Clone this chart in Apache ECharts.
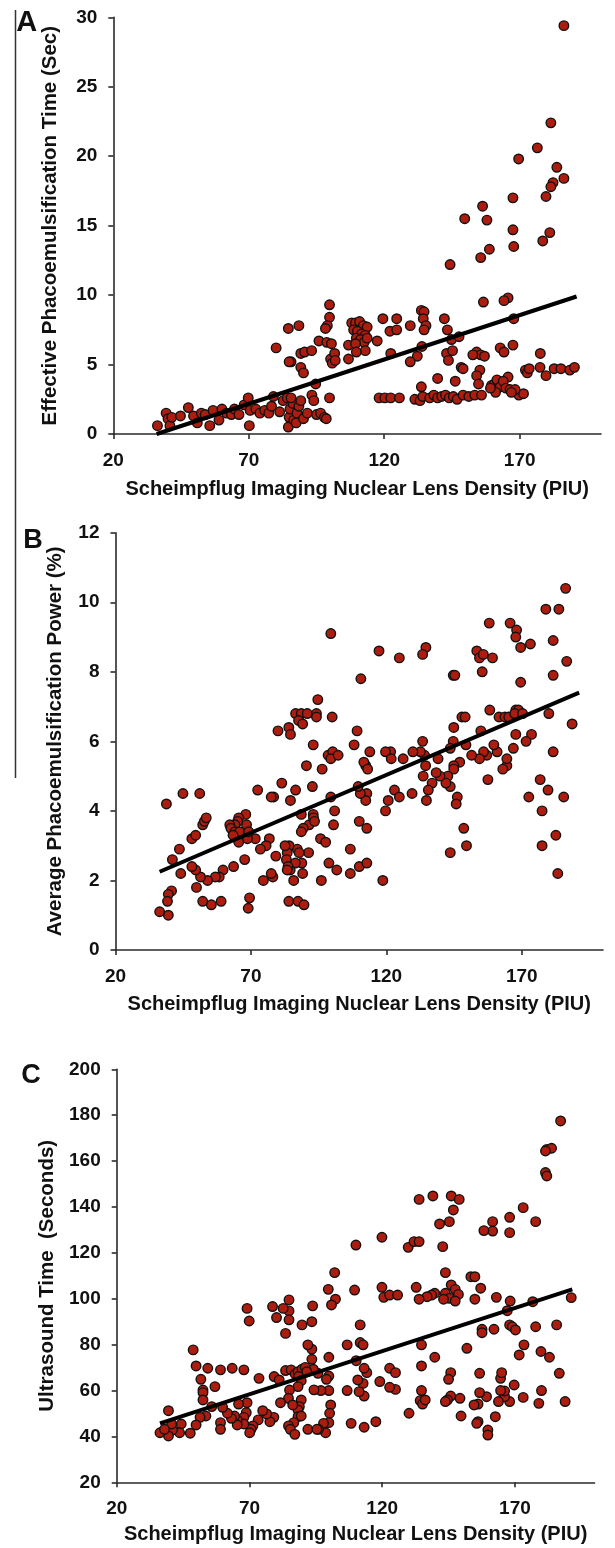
<!DOCTYPE html>
<html><head><meta charset="utf-8">
<script src="https://cdn.jsdelivr.net/npm/echarts@6/dist/echarts.min.js"></script>
<style>html,body{margin:0;padding:0;background:#fff}#c{width:615px;height:1548px}</style>
</head><body><div id="c"></div>
<script>
const xTicks = [20, 70, 120, 170];
const xTitle = 'Scheimpflug Imaging Nuclear Lens Density (PIU)';
const yTitleA = 'Effective Phacoemulsification Time (Sec)';
const yTitleB = 'Average Phacoemulsification Power (%)';
const yTitleC = 'Ultrasound Time  (Seconds)';

const pointsA = [[186.3,29.4],[181.5,22.4],[176.5,20.6],[169.6,19.8],[183.7,19.2],[186.3,18.4],[182.3,18.1],[181.5,17.8],[179.7,17.1],[167.5,17.0],[156.3,16.4],[157.9,15.4],[149.7,15.5],[167.5,14.7],[181.1,14.5],[178.5,13.9],[167.8,13.5],[158.8,13.3],[155.6,12.7],[144.3,12.2],[156.6,9.5],[165.7,9.8],[164.2,9.6],
[99.8,9.3],[99.8,8.4],[99.0,7.8],[98.3,7.6],[88.5,7.8],[84.6,7.6],[80.1,6.2],[85.6,5.2],[84.9,5.2],[89.2,5.8],[90.6,5.9],[93.2,6.0],[89.2,4.8],[90.2,4.4],[95.9,6.7],[98.8,6.6],[100.5,6.5],[100.2,5.4],[101.7,5.8],[100.8,5.1],[101.9,5.3],[99.8,2.6],[106.8,6.4],[106.8,5.4],[108.0,8.0],
[109.4,8.0],[110.9,8.1],[112.3,7.8],[113.7,7.7],[108.7,7.5],[110.1,7.4],[111.6,7.2],[113.0,7.1],[109.7,6.9],[111.2,6.8],[112.6,6.6],[113.7,6.9],[109.4,6.5],[113.0,6.0],[109.7,5.9],
[117.4,6.7],[119.5,8.3],[124.6,8.3],[122.1,7.4],[124.6,7.5],[122.4,5.8],[129.6,7.8],[133.7,8.9],[134.7,8.8],[134.4,8.3],[135.4,7.8],[134.7,7.5],[133.9,6.3],[132.2,5.6],[129.6,5.2],
[142.2,8.3],[143.3,7.5],[144.8,6.8],[147.6,7.0],[143.0,5.8],[145.2,6.0],[143.7,5.3],[148.4,4.8],[149.1,4.7],[139.7,4.0],[146.2,3.8],
[154.1,5.9],[155.6,5.7],[157.0,5.6],[152.7,5.7],[155.3,4.6],[154.1,4.2],[154.8,3.6],[162.8,6.2],[164.2,5.9],[167.5,6.4],[167.8,8.3],[165.7,4.1],
[159.6,3.5],[160.6,3.6],[161.6,3.9],[162.8,3.4],[163.9,3.8],[164.9,3.3],[166.4,3.2],[161.1,3.0],[159.2,3.3],
[169.7,2.8],[171.4,2.9],[172.1,4.6],[172.8,4.4],[173.5,4.7],[177.6,5.8],[177.5,4.8],[179.7,4.2],[182.7,4.7],[185.2,4.7],[188.5,4.6],[190.2,4.8],[168.3,3.2],[166.9,3.0],
[118.1,2.6],[120.2,2.6],[122.4,2.6],[125.6,2.6],[131.3,2.5],[133.2,2.4],[133.7,3.4],[134.2,2.7],[136.8,2.6],[138.3,2.8],[139.7,2.6],[141.2,2.7],[142.6,2.8],[144.0,2.6],[145.5,2.7],[146.9,2.5],[149.1,2.8],[151.2,2.7],[153.4,2.8],[155.9,2.8],
[36.3,0.6],[39.5,1.5],[40.2,1.1],[40.9,0.6],[41.6,1.2],[44.8,1.3],[47.7,1.9],[49.6,1.3],[51.0,0.8],[52.5,1.5],[53.9,1.4],[55.6,0.6],[56.8,1.7],[59.0,1.0],[60.1,1.8],[61.8,1.5],[63.6,1.4],[64.7,1.8],[66.4,1.4],[68.3,2.1],[69.8,2.6],[70.2,0.6],[70.5,1.7],[72.6,1.8],[74.1,1.5],[75.9,1.7],[77.4,1.5],[78.4,2.0],[79.1,2.7],[81.4,1.6],[82.7,2.4],[84.2,2.6],[84.6,0.5],[84.9,1.2],[85.2,1.8],[86.3,2.2],[86.6,1.0],[87.8,1.5],[88.5,2.0],[89.2,2.4],[87.5,0.8],[90.2,1.1],[91.6,1.5],[93.3,2.8],[94.0,2.4],[95.0,1.4],[96.5,1.5],[97.9,1.2],[98.6,1.1],[94.7,3.6],[85.6,2.6]];
const trendA = [[36.0,0.0],[191.0,9.9]];

const pointsB = [[186.2,10.4],[178.9,9.8],[183.7,9.8],[158.0,9.4],[165.7,9.4],[168.1,9.2],[167.8,9.0],[173.2,8.8],[181.6,8.9],[99.5,9.1],[117.3,8.6],[124.8,8.4],[134.6,8.7],[133.4,8.5],[153.4,8.6],[154.4,8.4],[155.8,8.5],[159.2,8.4],[155.4,8.0],[169.6,8.7],[186.6,8.3],[181.6,7.9],[169.6,7.7],[110.6,7.8],[144.7,7.9],[145.3,7.9],[94.7,7.2],[86.5,6.8],[88.6,6.8],[90.8,6.8],[94.2,6.8],[87.6,6.6],[89.1,6.5],[94.2,6.7],[100.0,6.7],[80.0,6.3],[84.0,6.4],[84.6,6.2],[109.2,6.3],[144.9,6.4],[158.2,6.9],[154.9,6.3],[188.6,6.5],[180.0,6.8],
[161.6,6.7],[163.8,6.7],[165.2,6.7],[167.8,6.9],[168.8,6.9],[167.4,6.8],[170.3,6.8],[147.9,6.7],[149.1,6.7],[173.6,6.2],[167.8,6.2],[171.6,6.0],[166.9,5.8],[160.9,5.7],[159.7,5.9],[157.1,5.6],[155.9,5.7],[154.4,5.5],[151.5,5.6],[149.4,5.9],[144.7,6.0],[143.6,5.8],[157.5,4.9],[164.5,5.3],[163.0,5.2],[164.5,5.5],[176.8,4.9],[179.7,4.6],[172.6,4.4],[185.5,4.4],[181.6,5.7],[177.5,4.0],[177.5,3.0],[182.6,3.3],[183.3,2.2],[143.6,2.8],[149.6,3.0],[148.6,3.5],[147.1,5.4],[144.9,5.3],[144.9,5.2],[142.7,5.0],[143.6,4.7],[146.2,4.4],[145.8,4.2],[142.0,4.8],[139.8,5.0],[138.4,5.1],[136.9,4.8],[135.5,4.6],[134.8,4.3],[133.6,5.0],[134.5,5.3],[134.1,5.6],[132.6,5.7],[133.4,6.0],[129.8,5.7],[129.5,4.5],[139.1,5.5],[126.2,5.5],[121.6,5.7],[119.7,5.7],[121.8,5.5],[123.0,4.6],[124.8,4.4],[120.7,4.3],[119.7,4.0],[118.7,2.0],[113.9,5.7],[112.4,5.3],[111.7,5.4],[113.1,5.2],[112.8,4.5],[112.4,4.3],[110.4,4.5],[109.6,4.7],[108.1,5.9],[110.0,3.7],[112.8,3.5],[106.7,2.9],[106.7,2.2],[110.0,2.4],[112.8,2.5],[100.9,4.0],[100.5,3.6],[99.5,4.4],[98.5,5.6],[100.2,5.7],[99.5,5.5],[102.2,5.6],[96.3,5.2],[93.0,5.9],[90.5,5.3],[92.7,4.7],[86.5,4.6],[84.6,4.3],[81.4,4.8],[78.4,4.4],[77.5,4.4],[72.5,4.6],[93.0,3.9],[91.5,3.6],[89.3,3.5],[88.6,3.4],[88.6,3.9],[93.1,3.8],[93.5,3.7],[95.7,3.2],[97.6,3.1],[98.8,2.5],[96.0,2.0],[101.7,2.3],[91.3,2.8],[89.1,2.2],[88.8,2.5],[87.1,2.9],[87.8,2.8],[86.4,2.5],[84.5,2.3],[84.1,3.0],[83.4,2.8],[83.1,2.6],[83.7,2.4],[83.4,2.3],[85.8,2.0],[82.6,3.0],[84.0,1.4],[87.4,1.4],[89.6,1.3],[79.2,2.7],[78.1,2.1],[77.5,2.2],[76.8,3.2],[75.6,3.0],[73.5,2.9],[74.6,2.0],[69.5,1.5],[69.0,1.2],[71.6,3.2],[68.7,3.2],[67.7,2.6],[68.1,3.9],[68.4,3.6],[65.5,3.8],[65.1,3.7],[64.1,3.6],[62.2,3.6],[62.6,3.5],[64.1,3.4],[65.8,3.4],[65.5,3.1],[63.4,3.3],[69.2,3.4],[63.6,2.4],[59.7,2.3],[58.3,2.1],[59.0,1.4],[55.4,1.3],[56.9,2.1],[54.0,2.0],[52.2,1.4],[51.4,2.1],[49.9,1.8],[49.6,2.3],[48.2,2.4],[44.1,2.2],[43.6,2.9],[41.0,2.6],[40.7,1.7],[39.5,1.6],[39.2,1.4],[39.5,1.0],[36.3,1.1],[38.8,4.2],[44.9,4.5],[51.1,4.5],[48.2,3.2],[49.6,3.3],[52.2,3.6],[52.8,3.7],[53.5,3.8]];
const trendB = [[36.3,2.25],[191.2,7.4]];

const pointsC = [[187.2,177.5],[182.0,165.1],[183.8,165.6],[181.5,164.4],[181.5,155.0],[182.0,153.5],[173.1,139.7],[177.8,133.6],[168.0,135.5],[168.0,128.8],[161.6,133.6],[161.6,129.5],[158.3,129.7],[133.9,143.3],[139.1,144.8],[146.0,144.8],[149.0,143.3],[146.8,138.7],[145.3,133.6],[141.6,132.6],[142.8,122.7],[129.8,122.4],[132.0,124.9],[133.9,124.9],[119.9,126.8],[110.1,123.4],[143.8,111.4],[153.4,109.6],[154.9,109.6],[157.1,104.6],[146.0,106.0],[147.5,104.1],[148.7,101.9],[143.8,102.4],[145.3,100.2],[147.5,99.0],[143.1,99.8],[139.8,102.4],[138.6,101.6],[136.9,100.9],[133.9,99.8],[132.8,105.0],[154.9,99.8],[163.0,100.6],[168.2,99.0],[176.7,98.7],[191.2,100.5],[119.9,105.0],[120.6,100.6],[122.8,101.6],[125.8,101.6],[109.6,103.8],[102.1,111.4],[99.7,104.1],[102.4,99.8],[100.9,97.3],[157.6,86.7],[157.6,85.2],[162.1,86.7],[168.0,88.6],[169.0,87.8],[170.2,86.4],[167.1,94.8],[177.8,87.8],[185.7,88.6],[173.4,79.9],[171.6,75.5],[179.8,77.0],[183.0,74.5],[186.7,67.5],[188.9,55.2],[179.0,54.4],[180.0,60.0],[173.1,57.0],[169.7,62.4],[168.0,55.2],[166.1,57.3],[166.1,59.8],[164.6,60.0],[164.6,65.3],[165.0,67.8],[163.8,55.2],[162.6,48.6],[159.8,42.8],[159.8,40.6],[159.3,57.3],[156.7,59.1],[156.7,67.5],[156.1,54.1],[154.6,53.7],[156.1,46.4],[155.6,45.7],[151.9,78.4],[149.7,48.9],[149.3,56.6],[145.8,67.8],[145.0,64.9],[145.8,57.6],[144.6,55.9],[143.8,55.2],[139.8,74.5],[134.8,79.9],[134.8,70.7],[134.8,60.0],[134.3,55.6],[135.2,54.1],[136.2,55.9],[130.1,50.1],[125.0,60.5],[122.8,61.4],[122.8,69.7],[125.0,67.8],[119.1,63.9],[117.6,46.4],[113.2,44.0],[114.2,67.8],[113.2,69.7],[112.8,63.1],[113.2,57.6],[110.8,64.6],[111.3,59.5],[108.3,45.7],[106.8,60.0],[106.8,79.9],[111.7,88.6],[111.7,80.9],[112.8,79.9],[110.2,73.0],[99.9,74.5],[99.9,66.3],[99.0,64.9],[99.9,60.0],[100.6,53.7],[100.2,50.1],[99.9,46.0],[98.7,41.6],[97.9,45.7],[96.0,43.1],[96.9,60.0],[94.3,60.3],[95.8,67.5],[94.0,69.3],[93.5,73.6],[93.5,78.0],[92.0,79.9],[93.5,90.0],[93.8,96.9],[89.8,88.6],[84.9,99.5],[84.9,94.7],[84.9,90.8],[82.7,95.8],[78.7,96.6],[80.2,91.8],[83.6,84.9],[69.1,95.8],[69.9,90.3],[67.9,69.0],[63.5,69.7],[59.1,69.0],[54.3,69.7],[49.9,70.7],[48.8,77.7],[51.7,64.9],[52.5,60.2],[52.5,59.1],[52.5,55.9],[57.0,61.7],[73.6,65.3],[79.3,66.1],[81.2,64.6],[83.6,68.7],[85.7,69.0],[87.2,67.2],[88.3,68.2],[89.8,69.3],[91.0,70.1],[91.6,68.2],[88.5,66.1],[89.5,64.3],[88.3,61.7],[85.1,60.2],[84.7,56.6],[81.7,54.7],[89.5,55.9],[88.8,53.0],[88.3,51.5],[86.3,53.7],[88.3,48.6],[89.5,48.9],[86.7,46.0],[84.7,44.6],[85.4,43.1],[87.1,40.9],[92.0,43.1],[95.4,43.1],[79.2,48.3],[77.7,46.4],[76.5,49.8],[75.0,51.2],[73.3,47.2],[71.3,44.6],[70.6,43.1],[69.1,54.7],[68.8,50.4],[67.9,48.3],[67.9,45.4],[65.9,54.1],[65.4,47.2],[65.4,45.0],[64.4,48.9],[63.2,47.9],[61.7,50.1],[59.9,52.7],[59.1,46.0],[59.1,43.1],[70.1,41.6],[55.8,53.0],[53.6,48.9],[51.4,48.3],[49.9,45.0],[47.7,41.4],[44.3,45.4],[43.7,41.6],[41.0,42.8],[40.7,45.4],[39.5,51.2],[39.5,40.2],[36.3,41.6],[38.0,43.1]];
const trendC = [[36.3,45.7],[191.6,104.1]];

const FONT = '"Liberation Sans", Arial, sans-serif';
const AX = '#2a2a2a';

function xAxisFor(i, gap) {
  return {
    type: 'value', gridIndex: i, min: 20, max: 200, interval: 50,
    name: xTitle, nameLocation: 'middle', nameGap: gap,
    nameTextStyle: {fontFamily: FONT, fontWeight: 'bold', fontSize: 20, color: '#111'},
    axisLine: {show: true, onZero: false, lineStyle: {color: AX, width: 1.6}},
    axisTick: {show: true, length: 5, customValues: xTicks, lineStyle: {color: AX, width: 1.6}},
    axisLabel: {customValues: xTicks, margin: 17, fontFamily: FONT, fontWeight: 'bold', fontSize: 19, color: '#111'},
    splitLine: {show: false}
  };
}
function yAxisFor(i, min, max, interval, name, gap) {
  return {
    type: 'value', gridIndex: i, min: min, max: max, interval: interval,
    name: name, nameLocation: 'middle', nameGap: gap, nameRotate: 90,
    nameTextStyle: {fontFamily: FONT, fontWeight: 'bold', fontSize: 20.5, color: '#111'},
    axisLine: {show: true, onZero: false, lineStyle: {color: AX, width: 1.6}},
    axisTick: {show: true, length: 5, lineStyle: {color: AX, width: 1.6}},
    axisLabel: {margin: 16, fontFamily: FONT, fontWeight: 'bold', fontSize: 19, color: '#111'},
    splitLine: {show: false}
  };
}
function scatterFor(i, pts) {
  return {type: 'scatter', xAxisIndex: i, yAxisIndex: i, data: pts, symbol: 'circle', symbolSize: 9.5,
    itemStyle: {color: '#ac1d10', borderColor: '#111', borderWidth: 1.4, opacity: 1}, z: 2, silent: true};
}
function trendFor(i, pts) {
  return {type: 'line', xAxisIndex: i, yAxisIndex: i, data: pts, symbol: 'none',
    lineStyle: {color: '#000', width: 4}, z: 3, silent: true};
}

const chart = echarts.init(document.getElementById('c'), null, {renderer: 'canvas'});
chart.setOption({
  animation: false,
  backgroundColor: '#fff',
  grid: [
    {left: 113.3, top: 17.3, width: 487.7, height: 416.7},
    {left: 115.5, top: 532.7, width: 487.5, height: 417.3},
    {left: 116.7, top: 1069.3, width: 477.9, height: 413}
  ],
  xAxis: [xAxisFor(0, 45), xAxisFor(1, 44), xAxisFor(2, 42)],
  yAxis: [
    yAxisFor(0, 0, 30, 5, yTitleA, 52),
    yAxisFor(1, 0, 12, 2, yTitleB, 50),
    yAxisFor(2, 20, 200, 20, yTitleC, 59)
  ],
  series: [
    scatterFor(0, pointsA), trendFor(0, trendA),
    scatterFor(1, pointsB), trendFor(1, trendB),
    scatterFor(2, pointsC), trendFor(2, trendC)
  ],
  graphic: [
    {type: 'line', shape: {x1: 15.5, y1: 10, x2: 15.5, y2: 778}, style: {stroke: '#333', lineWidth: 1.5}},
    {type: 'text', x: 26.7, y: 23, style: {text: 'A', font: 'bold 29px ' + FONT, fill: '#111', textAlign: 'center', textVerticalAlign: 'middle'}},
    {type: 'text', x: 33, y: 541, style: {text: 'B', font: 'bold 27px ' + FONT, fill: '#111', textAlign: 'center', textVerticalAlign: 'middle'}},
    {type: 'text', x: 31, y: 1076, style: {text: 'C', font: 'bold 27px ' + FONT, fill: '#111', textAlign: 'center', textVerticalAlign: 'middle'}}
  ]
});
</script></body></html>
